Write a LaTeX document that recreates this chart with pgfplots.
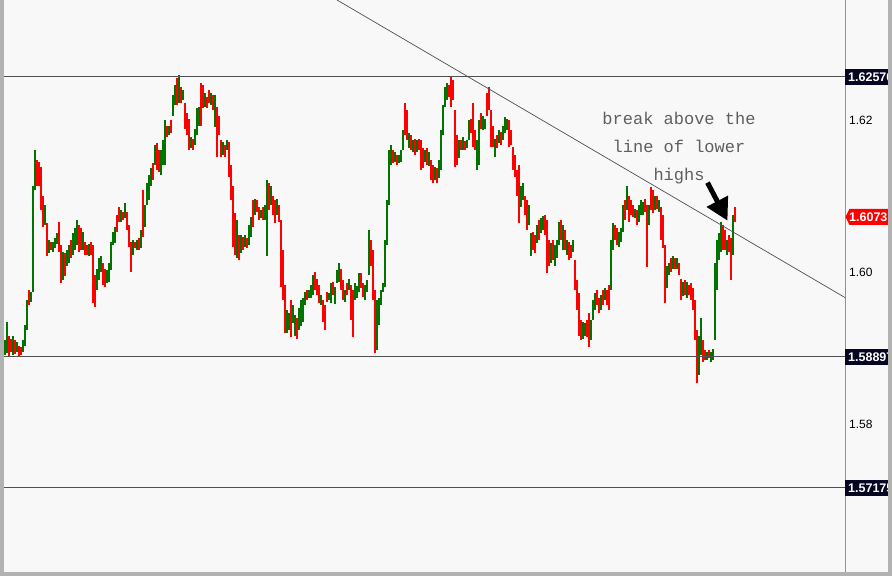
\documentclass[border=0pt]{standalone}
\usepackage{fontspec}
\setmainfont{Liberation Sans}
\newfontfamily\typew{Liberation Mono}
\usepackage{pgfplots}
\usepackage{pgfplotstable}
\pgfplotsset{compat=1.18}
\usetikzlibrary{arrows.meta}
\definecolor{bg}{RGB}{248,248,248}
\definecolor{frame}{RGB}{178,178,178}
\definecolor{upbar}{RGB}{0,115,0}
\definecolor{downbar}{RGB}{255,0,0}
\definecolor{levelbox}{RGB}{6,6,34}
\definecolor{levelline}{RGB}{80,80,80}
\definecolor{notegray}{RGB}{95,95,95}

% rising bars: x (pixel column), low, high
\pgfplotstableread{
x lo hi
5 1.5891 1.5911
7 1.5894 1.5935
13 1.5891 1.5916
17 1.5895 1.5908
23 1.5895 1.5911
25 1.5904 1.5931
27 1.5924 1.5964
31 1.5961 1.5974
33 1.5974 1.6114
35 1.6108 1.6161
45 1.6062 1.6088
49 1.6026 1.6043
53 1.6027 1.6040
55 1.6032 1.6045
57 1.6038 1.6052
63 1.5990 1.6027
67 1.6009 1.6030
69 1.6013 1.6036
73 1.6023 1.6052
75 1.6030 1.6058
77 1.6036 1.6069
83 1.6030 1.6053
89 1.6021 1.6038
97 1.5977 1.6005
99 1.5990 1.6019
101 1.6000 1.6022
107 1.5986 1.6003
109 1.5987 1.6013
111 1.6003 1.6040
113 1.6036 1.6053
115 1.6039 1.6060
121 1.6066 1.6082
125 1.6071 1.6091
133 1.6023 1.6043
137 1.6030 1.6043
141 1.6032 1.6056
145 1.6060 1.6088
147 1.6088 1.6118
149 1.6095 1.6128
151 1.6114 1.6137
155 1.6141 1.6167
161 1.6128 1.6161
163 1.6141 1.6174
165 1.6141 1.6200
169 1.6180 1.6192
173 1.6206 1.6233
175 1.6220 1.6246
179 1.6223 1.6259
183 1.6227 1.6240
191 1.6163 1.6178
195 1.6167 1.6189
197 1.6180 1.6216
199 1.6193 1.6218
205 1.6218 1.6236
211 1.6220 1.6236
215 1.6191 1.6233
223 1.6154 1.6171
227 1.6161 1.6174
237 1.6019 1.6069
241 1.6026 1.6049
245 1.6034 1.6049
249 1.6036 1.6062
251 1.6047 1.6073
255 1.6075 1.6097
261 1.6071 1.6082
265 1.6069 1.6088
267 1.6021 1.6121
271 1.6088 1.6114
277 1.6075 1.6097
287 1.5920 1.5951
289 1.5924 1.5947
293 1.5934 1.5957
295 1.5917 1.5944
299 1.5924 1.5953
301 1.5929 1.5964
303 1.5935 1.5966
305 1.5957 1.5974
309 1.5966 1.5977
311 1.5966 1.5983
313 1.5970 1.5996
321 1.5957 1.5970
329 1.5964 1.5973
331 1.5960 1.5986
335 1.5959 1.5981
337 1.5986 1.6003
339 1.5987 1.6013
345 1.5961 1.5977
349 1.5977 1.5992
355 1.5964 1.5986
357 1.5966 1.5982
359 1.5974 1.5999
365 1.5964 1.5983
367 1.5974 1.5990
369 1.5996 1.6056
377 1.5898 1.5964
379 1.5931 1.5966
381 1.5957 1.5977
383 1.5974 1.5986
385 1.5981 1.6043
387 1.6036 1.6095
389 1.6088 1.6161
391 1.6141 1.6167
395 1.6145 1.6158
399 1.6144 1.6154
401 1.6145 1.6161
403 1.6161 1.6187
409 1.6163 1.6183
413 1.6158 1.6174
417 1.6158 1.6174
425 1.6145 1.6161
429 1.6140 1.6158
435 1.6121 1.6139
439 1.6124 1.6148
441 1.6135 1.6187
443 1.6180 1.6220
445 1.6218 1.6244
447 1.6227 1.6249
459 1.6150 1.6174
463 1.6161 1.6178
467 1.6163 1.6174
469 1.6174 1.6200
477 1.6135 1.6174
479 1.6141 1.6200
483 1.6187 1.6205
485 1.6189 1.6202
495 1.6152 1.6176
499 1.6170 1.6187
503 1.6174 1.6193
505 1.6183 1.6204
507 1.6187 1.6202
521 1.6086 1.6114
523 1.6095 1.6117
529 1.6062 1.6088
531 1.6021 1.6052
537 1.6039 1.6062
541 1.6052 1.6071
543 1.6056 1.6074
551 1.6013 1.6039
555 1.6009 1.6036
557 1.6019 1.6043
559 1.6036 1.6066
563 1.6030 1.6062
567 1.6023 1.6043
573 1.6027 1.6043
583 1.5913 1.5935
585 1.5917 1.5934
591 1.5911 1.5938
593 1.5938 1.5964
595 1.5951 1.5973
601 1.5951 1.5970
605 1.5964 1.5979
611 1.5977 1.6043
613 1.6030 1.6065
619 1.6034 1.6053
621 1.6040 1.6058
623 1.6053 1.6088
627 1.6082 1.6114
635 1.6071 1.6084
639 1.6066 1.6088
641 1.6075 1.6095
643 1.6075 1.6092
649 1.6062 1.6088
655 1.6082 1.6101
659 1.6079 1.6095
667 1.5979 1.6009
669 1.5996 1.6013
673 1.6005 1.6022
677 1.6005 1.6019
683 1.5969 1.5987
687 1.5966 1.5987
699 1.5865 1.5917
701 1.5891 1.5940
707 1.5885 1.5895
711 1.5882 1.5895
713 1.5885 1.5900
715 1.5911 1.6012
717 1.5977 1.6043
719 1.6016 1.6052
721 1.6027 1.6066
727 1.6023 1.6043
733 1.6023 1.6075
}\upbars

% falling bars
\pgfplotstableread{
x lo hi
9 1.5889 1.5917
11 1.5895 1.5913
15 1.5893 1.5911
19 1.5890 1.5904
21 1.5891 1.5902
29 1.5957 1.5977
37 1.6114 1.6148
39 1.6114 1.6145
41 1.6082 1.6139
43 1.6060 1.6101
47 1.6021 1.6065
51 1.6030 1.6040
59 1.6027 1.6066
61 1.5986 1.6036
65 1.5995 1.6026
71 1.6019 1.6043
79 1.6027 1.6062
81 1.6030 1.6058
85 1.6023 1.6040
87 1.6023 1.6036
91 1.6023 1.6040
93 1.5960 1.6036
95 1.5955 1.5996
103 1.5983 1.6013
105 1.5981 1.6005
117 1.6053 1.6075
119 1.6066 1.6086
123 1.6069 1.6079
127 1.6056 1.6079
129 1.6034 1.6062
131 1.6000 1.6040
135 1.6032 1.6040
139 1.6030 1.6045
143 1.6047 1.6108
153 1.6121 1.6144
157 1.6135 1.6170
159 1.6132 1.6161
167 1.6178 1.6193
171 1.6183 1.6200
177 1.6220 1.6255
181 1.6223 1.6244
185 1.6189 1.6223
187 1.6180 1.6210
189 1.6161 1.6202
193 1.6161 1.6176
201 1.6193 1.6249
203 1.6216 1.6246
207 1.6216 1.6231
209 1.6223 1.6240
213 1.6213 1.6233
217 1.6152 1.6218
219 1.6180 1.6206
221 1.6152 1.6174
225 1.6152 1.6167
229 1.6126 1.6171
231 1.6095 1.6141
233 1.6034 1.6114
235 1.6023 1.6078
239 1.6016 1.6049
243 1.6030 1.6047
247 1.6032 1.6045
253 1.6060 1.6095
257 1.6079 1.6095
259 1.6069 1.6086
263 1.6069 1.6086
269 1.6082 1.6118
273 1.6075 1.6101
275 1.6065 1.6095
279 1.6066 1.6088
281 1.5981 1.6069
283 1.5964 1.6030
285 1.5920 1.5983
291 1.5915 1.5964
297 1.5913 1.5940
307 1.5964 1.5977
315 1.5977 1.6000
317 1.5970 1.5992
319 1.5960 1.5983
323 1.5935 1.5964
325 1.5924 1.5957
327 1.5961 1.5974
333 1.5970 1.5987
341 1.5977 1.6005
343 1.5964 1.5990
347 1.5970 1.5986
351 1.5938 1.5983
353 1.5915 1.5977
361 1.5979 1.5999
363 1.5968 1.5986
371 1.6009 1.6043
373 1.5964 1.6030
375 1.5894 1.5977
393 1.6144 1.6161
397 1.6141 1.6154
405 1.6180 1.6223
407 1.6174 1.6213
411 1.6161 1.6180
415 1.6154 1.6176
419 1.6161 1.6176
421 1.6135 1.6174
423 1.6137 1.6163
427 1.6141 1.6163
431 1.6121 1.6148
433 1.6117 1.6141
437 1.6117 1.6137
449 1.6231 1.6246
451 1.6218 1.6257
453 1.6227 1.6253
455 1.6139 1.6213
457 1.6141 1.6180
461 1.6161 1.6174
465 1.6161 1.6173
471 1.6183 1.6202
473 1.6165 1.6223
475 1.6161 1.6187
481 1.6189 1.6210
487 1.6206 1.6236
489 1.6213 1.6244
491 1.6165 1.6213
493 1.6165 1.6193
497 1.6163 1.6180
501 1.6167 1.6184
509 1.6165 1.6200
511 1.6167 1.6187
513 1.6135 1.6165
515 1.6126 1.6154
517 1.6101 1.6135
519 1.6065 1.6141
525 1.6075 1.6101
527 1.6056 1.6095
533 1.6030 1.6053
535 1.6026 1.6049
539 1.6043 1.6069
545 1.6049 1.6075
547 1.5999 1.6069
549 1.6009 1.6043
553 1.6016 1.6043
561 1.6043 1.6069
565 1.6030 1.6056
569 1.6016 1.6040
571 1.6019 1.6036
575 1.5977 1.6016
577 1.5951 1.5990
579 1.5917 1.5973
581 1.5911 1.5938
587 1.5915 1.5938
589 1.5902 1.5947
597 1.5957 1.5977
599 1.5947 1.5966
603 1.5957 1.5977
607 1.5957 1.5977
609 1.5951 1.5983
615 1.6043 1.6062
617 1.6036 1.6058
625 1.6069 1.6095
629 1.6066 1.6101
631 1.6075 1.6095
633 1.6073 1.6088
637 1.6062 1.6082
645 1.6079 1.6097
647 1.6007 1.6088
651 1.6082 1.6112
653 1.6078 1.6108
657 1.6084 1.6101
661 1.6043 1.6086
663 1.6032 1.6075
665 1.5960 1.6036
671 1.6000 1.6019
675 1.6005 1.6019
679 1.5996 1.6013
681 1.5964 1.5992
685 1.5970 1.5990
689 1.5970 1.5983
691 1.5964 1.5986
693 1.5951 1.5979
695 1.5911 1.5964
697 1.5855 1.5924
703 1.5882 1.5911
705 1.5885 1.5898
709 1.5887 1.5898
723 1.6030 1.6062
725 1.6030 1.6056
729 1.6027 1.6049
731 1.5990 1.6045
735 1.6066 1.6086
}\downbars

\begin{document}
\begin{tikzpicture}
\fill[bg] (-4pt,-4pt) rectangle (888pt,572pt);
\begin{axis}[
    scale only axis,
    width=841pt, height=572pt,
    xmin=4, xmax=845,
    ymin=1.56064, ymax=1.6358,
    axis line style={draw=none},
    tick style={draw=none},
    major tick length=0pt,
    xtick=\empty,
    ytick={1.58,1.60,1.62},
    yticklabel pos=right,
    yticklabel style={anchor=west, inner sep=0pt, xshift=4pt,
        font=\fontsize{12}{12}\selectfont,
        /pgf/number format/.cd, fixed, fixed zerofill, precision=2,
        assume math mode=true},
]
\addplot[draw=none, mark=none,
    error bars/.cd, y dir=plus, y explicit, error mark=none,
    error bar style={draw=upbar, line width=2.5pt}]
    table[x=x, y=lo, y error expr=\thisrow{hi}-\thisrow{lo}] {\upbars};
\addplot[draw=none, mark=none,
    error bars/.cd, y dir=plus, y explicit, error mark=none,
    error bar style={draw=downbar, line width=2.5pt}]
    table[x=x, y=lo, y error expr=\thisrow{hi}-\thisrow{lo}] {\downbars};

% support / resistance levels and trend line
\draw[levelline, line width=1pt] (axis cs:4,1.6257) -- (axis cs:845,1.6257);
\draw[levelline, line width=1pt] (axis cs:4,1.5889) -- (axis cs:845,1.5889);
\draw[levelline, line width=1pt] (axis cs:4,1.5717) -- (axis cs:845,1.5717);
\draw[levelline, line width=0.7pt] (axis cs:337,1.6358) -- (axis cs:845,1.5967);

\node[align=center, text=notegray, font=\typew\fontsize{17}{28}\selectfont]
    at (axis cs:679,1.6164) {break above the\\line of lower\\highs};
\draw[black, line width=5pt, -{Triangle[length=22pt, width=23pt]}]
    (axis cs:707.5,1.6118) -- (axis cs:727.5,1.6068);

\coordinate (la) at (axis cs:845,1.6257);
\coordinate (lb) at (axis cs:845,1.5889);
\coordinate (lc) at (axis cs:845,1.5717);
\coordinate (ld) at (axis cs:845,1.6073);
\end{axis}

\draw[gray!85, line width=1pt] (841pt,-4pt) -- (841pt,572pt);
\foreach \c/\t in {la/1.62570, lb/1.58897, lc/1.57175} {
  \fill[levelbox] ([yshift=-8pt]\c) rectangle ([xshift=50pt,yshift=8pt]\c);
  \node[anchor=west, inner sep=0pt, text=white, font=\bfseries\fontsize{12.5}{12.5}\selectfont]
      at ([xshift=3pt]\c) {\t};
}
\fill[downbar] ([xshift=0.5pt]ld) -- ++(4pt,8pt) -- ++(50pt,0pt) -- ++(0pt,-16pt) -- ++(-50pt,0pt) -- cycle;
\node[anchor=west, inner sep=0pt, text=white, font=\bfseries\fontsize{12.5}{12.5}\selectfont]
    at ([xshift=4pt]ld) {1.6073};

% frame
\fill[frame] (-4pt,-4pt) rectangle (0pt,572pt);
\fill[frame] (884pt,-4pt) rectangle (888pt,572pt);
\fill[frame] (-4pt,-4pt) rectangle (888pt,0pt);
\pgfresetboundingbox
\useasboundingbox (-4pt,-4pt) rectangle (888pt,572pt);
\end{tikzpicture}
\end{document}
